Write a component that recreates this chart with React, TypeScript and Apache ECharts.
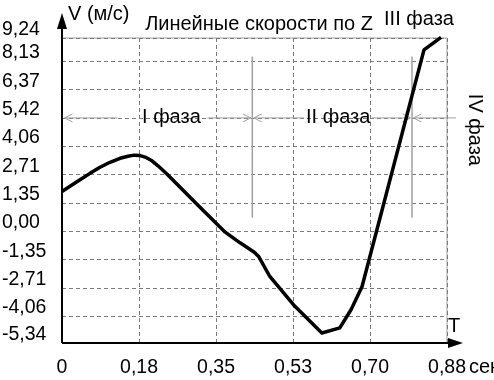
import React, { useEffect, useRef } from 'react';
import * as echarts from 'echarts';

// Time (s) and linear speed along Z (m/s)
const timeValues = [0, 0.0183, 0.0411, 0.064, 0.0869, 0.1097, 0.1326, 0.1509, 0.1646, 0.1783, 0.192, 0.2057, 0.2194, 0.2393, 0.308, 0.373, 0.407, 0.4395, 0.45, 0.475, 0.529, 0.594, 0.635, 0.6606, 0.6857, 0.8274, 0.8663];
const speedValues = [1.9, 2.15, 2.46, 2.77, 3.06, 3.3, 3.49, 3.59, 3.64, 3.62, 3.53, 3.37, 3.13, 2.75, 1.3, -0.04, -0.55, -1.0, -1.22, -2.16, -3.51, -4.86, -4.62, -3.75, -2.65, 8.67, 9.27];

const yTickValues = [-5.34, -4.06, -2.71, -1.35, 0, 1.35, 2.71, 4.06, 5.42, 6.77, 8.13, 9.24];
const yTickLabels = ['-5,34', '-4,06', '-2,71', '-1,35', '0,00', '1,35', '2,71', '4,06', '5,42', '6,37', '8,13', '9,24'];
const xTickLabels = ['0', '0,18', '0,35', '0,53', '0,70', '0,88'];
const xUnit = 'сек';
const yTitle = 'V (м/с)';
const xTitle = 'T';
const chartTitle = 'Линейные скорости по Z';
const phaseNames = ['I фаза', 'II фаза', 'III фаза', 'IV фаза'];
const phaseBounds = [0.435, 0.8];

const FONT = '"Liberation Sans", Arial, sans-serif';
const TICK_SIZE = 19.5;
const TEXT_SIZE = 20;

export default function App() {
  const ref = useRef<HTMLDivElement>(null);
  useEffect(() => {
    if (!ref.current) return;
    const chart = echarts.init(ref.current, null, { renderer: 'svg' });
    const data = timeValues.map((t, i) => [t, speedValues[i]]);
    chart.setOption({
      animation: false,
      textStyle: { fontFamily: FONT },
      grid: {
        left: 62, right: 47, top: 38, bottom: 37,
        show: true, borderColor: '#a0a0a0', borderWidth: 1,
        outerBoundsMode: 'none',
      },
      xAxis: {
        type: 'value', min: 0, max: 0.88, interval: 0.176,
        axisLine: { show: false }, axisTick: { show: false },
        axisLabel: {
          fontSize: TICK_SIZE, color: '#000', margin: 13, fontFamily: FONT,
          showMinLabel: true, showMaxLabel: true,
          formatter: (v: number) => xTickLabels[Math.round(v / 0.176)] ?? '',
        },
        splitLine: { show: true, lineStyle: { color: '#7a7a7a', type: [4, 3], width: 1 } },
      },
      yAxis: {
        type: 'value', min: -5.34, max: 9.24,
        axisLine: { show: false },
        axisTick: { show: false, customValues: yTickValues },
        axisLabel: {
          customValues: yTickValues,
          fontSize: TICK_SIZE, color: '#000', margin: 60, align: 'left', verticalAlign: 'bottom', fontFamily: FONT,
          formatter: (v: number) => {
            let best = 0;
            yTickValues.forEach((tv, i) => { if (Math.abs(tv - v) < Math.abs(yTickValues[best] - v)) best = i; });
            return yTickLabels[best];
          },
        },
        splitLine: { show: true, lineStyle: { color: '#7a7a7a', type: [4, 3], width: 1 } },
      },
      series: [{
        type: 'line', data, symbol: 'none', clip: false, z: 10,
        lineStyle: { color: '#000', width: 3.5, join: 'round' },
      }],
    });

    const P = (x: number, y: number) => chart.convertToPixel({ gridIndex: 0 }, [x, y]) as number[];
    const o = P(0, -5.34);
    const tr = P(0.88, 9.24);
    const arrowY = P(0, 5.42)[1];
    const vTop = P(0, 8.35)[1];
    const vBot = P(0, 0.65)[1];
    const b1 = P(phaseBounds[0], 0)[0];
    const b2 = P(phaseBounds[1], 0)[0];
    const grey = '#a0a0a0';
    const g: any[] = [];
    const line = (x1: number, y1: number, x2: number, y2: number, stroke: string, w: number) =>
      g.push({ type: 'line', shape: { x1, y1, x2, y2 }, style: { stroke, lineWidth: w }, silent: true });
    const chevron = (tipX: number, dir: number) => {
      g.push({ type: 'polyline', shape: { points: [[tipX + dir * 8, arrowY - 4], [tipX, arrowY], [tipX + dir * 8, arrowY + 4]] }, style: { stroke: grey, lineWidth: 1, fill: 'none' }, silent: true });
    };
    const text = (t: string, x: number, y: number, extra: any = {}) =>
      g.push({ type: 'text', x, y, silent: true, ...extra, style: { text: t, font: `${TEXT_SIZE}px ${FONT}`, fill: '#000', align: 'center', verticalAlign: 'middle', ...(extra.style || {}) } });

    // axes with arrows
    line(o[0], o[1], o[0], tr[1] - 20, '#000', 2);
    g.push({ type: 'polygon', shape: { points: [[o[0] - 5, tr[1] - 9], [o[0], tr[1] - 25], [o[0] + 5, tr[1] - 9]] }, style: { fill: '#000' }, silent: true });
    line(o[0], o[1], tr[0] + 6, o[1], '#000', 2);
    g.push({ type: 'polygon', shape: { points: [[tr[0] + 1, o[1] - 5], [tr[0] + 16, o[1]], [tr[0] + 1, o[1] + 5]] }, style: { fill: '#000' }, silent: true });

    // phase boundaries
    line(b1, vTop, b1, vBot, grey, 1.5);
    line(b2, vTop, b2, vBot, grey, 1.5);

    // phase arrows
    const x0 = o[0] + 2.5;
    line(x0, arrowY, x0 + 53, arrowY, grey, 1); chevron(x0, 1);
    text(phaseNames[0], (x0 + b1) / 2 + 13, arrowY - 2);
    line(b1 - 45, arrowY, b1 - 1.5, arrowY, grey, 1); chevron(b1 - 1.5, -1);
    line(b1 + 1.5, arrowY, b1 + 52, arrowY, grey, 1); chevron(b1 + 1.5, 1);
    text(phaseNames[1], (b1 + b2) / 2 + 6, arrowY - 2);
    line(b2 - 40, arrowY, b2 - 1.5, arrowY, grey, 1); chevron(b2 - 1.5, -1);
    line(b2 + 1.5, arrowY, b2 + 44, arrowY, grey, 1); chevron(b2 + 1.5, 1);
    text(phaseNames[3], b2 + 64, arrowY + 12, { rotation: -Math.PI / 2 });
    text(phaseNames[2], tr[0] - 28, tr[1] - 20);

    // titles
    text(yTitle, o[0] + 6, tr[1] - 25, { style: { align: 'left' } });
    text(chartTitle, 259, tr[1] - 15);
    text(xTitle, tr[0] + 7, o[1] - 18);
    text(xUnit, tr[0] + 22, o[1] + 23, { style: { align: 'left' } });

    chart.setOption({ graphic: g });
    return () => chart.dispose();
  }, []);
  return <div ref={ref} style={{ position: 'fixed', left: 0, top: 0, width: 494, height: 380 }} />;
}
